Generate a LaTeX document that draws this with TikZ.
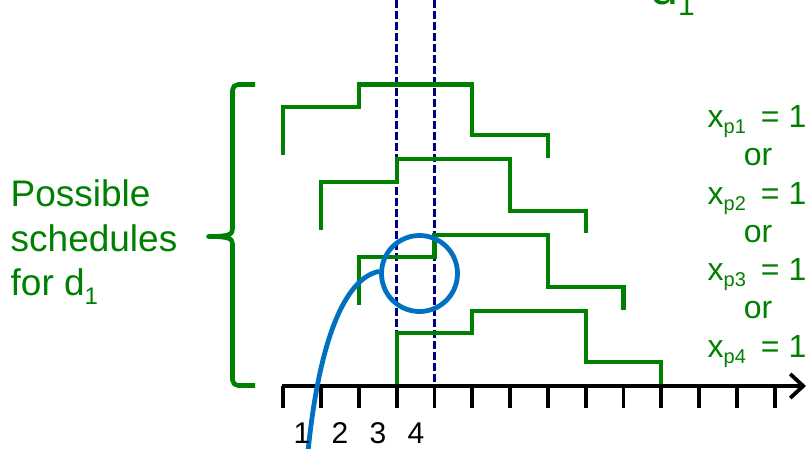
\documentclass[tikz,border=0pt]{standalone}
\usepackage{fontspec}
\setmainfont{Liberation Sans}
\usetikzlibrary{arrows.meta}
\definecolor{sched}{RGB}{0,128,0}
\definecolor{navyguide}{RGB}{0,0,128}
\definecolor{hlblue}{RGB}{0,112,192}
\newcommand{\mysub}[3]{\raisebox{-#2}{\fontsize{#1}{#1}\selectfont #3}}
\begin{document}
\begin{tikzpicture}[x=1pt,y=-1pt,
  schedline/.style={draw=sched, line width=4.2pt, line join=miter},
  braceline/.style={draw=sched, line width=4.6pt, line join=round},
  guideline/.style={draw=navyguide, line width=2.8pt, dash pattern=on 8pt off 3pt},
  axisline/.style={draw=black, line width=3.8pt},
  tickline/.style={draw=black, line width=3.8pt},
  hlline/.style={draw=hlblue, line width=4.8pt},
  lefttext/.style={text=sched, inner sep=0pt, anchor=base west, font=\fontsize{37pt}{44pt}\selectfont},
  righttext/.style={text=sched, inner sep=0pt, font=\fontsize{32pt}{38pt}\selectfont},
  numtext/.style={text=black, inner sep=0pt, anchor=base, font=\fontsize{30pt}{36pt}\selectfont}]
\useasboundingbox (0,0) rectangle (807,448);
\clip (0,0) rectangle (807,448);
% axis
\coordinate (axstart) at (281.5,386);
\coordinate (axend) at (806,386);
\foreach \i in {0,...,13} \draw[tickline] (283.3+37.8*\i,386) -- ++(0,22);
\draw[axisline, -{Straight Barb[length=13pt,width=24pt]}] (axstart) -- (axend);
% guides
\coordinate (ga) at (396.7,0);
\coordinate (gab) at (396.7,386);
\coordinate (gb) at (434.5,0);
\coordinate (gbb) at (434.5,386);
\draw[guideline] (ga) -- (gab);
\draw[guideline] (gb) -- (gbb);
% schedules
\draw[schedline] (283.3,155) |- (358.9,107) |- (472.3,84.5) |- (548.0,135.3) -- (548.0,158);
\draw[schedline] (321.1,230) |- (396.7,182) |- (510.1,159.3) |- (585.7,211) -- (585.7,233);
\draw[schedline] (358.9,305) |- (434.5,257.3) |- (548.0,235) |- (623.5,286.7) -- (623.5,310);
\draw[schedline] (396.7,384) |- (472.3,333.3) |- (585.7,311) |- (661.3,362.3) -- (661.3,384);
% brace
\draw[braceline] (255,84.5) -- (238,84.5) arc[start angle=270, end angle=180, radius=5.5]
  -- (232.5,229) .. controls (232.5,234.5) and (229,236.5) .. (208.5,236.5)
  .. controls (229,236.5) and (232.5,238.5) .. (232.5,244)
  -- (232.5,380) arc[start angle=180, end angle=90, radius=5.5] -- (255,385.5);
% highlight
\node[circle, draw=hlblue, line width=4.8pt, minimum size=76pt, inner sep=0pt] (focus) at (419.5,273.5) {};
\coordinate (tail) at (307,462);
\draw[hlline] (focus.177) .. controls (345,278) and (318,340) .. (tail);
% texts
\node[lefttext] (l1) at (10.5,206) {Possible};
\node[lefttext] (l2) at (10.5,251) {schedules};
\node[lefttext] (l3) at (10.5,295) {for d\mysub{24pt}{9pt}{1}};
\node[lefttext, font=\fontsize{50pt}{60pt}\selectfont] (dtop) at (650,4) {d\mysub{30pt}{11pt}{1}};
\node[righttext, anchor=base west] (x1) at (707.5,127.5) {x\mysub{20pt}{6pt}{p1}\hspace{15pt}= 1};
\node[righttext, anchor=base] (o1) at (758,165.5) {or};
\node[righttext, anchor=base west] (x2) at (707.5,204) {x\mysub{20pt}{6pt}{p2}\hspace{15pt}= 1};
\node[righttext, anchor=base] (o2) at (758,242) {or};
\node[righttext, anchor=base west] (x3) at (707.5,280.5) {x\mysub{20pt}{6pt}{p3}\hspace{15pt}= 1};
\node[righttext, anchor=base] (o3) at (758,318.5) {or};
\node[righttext, anchor=base west] (x4) at (707.5,357) {x\mysub{20pt}{6pt}{p4}\hspace{15pt}= 1};
\node[numtext] (n1) at (302,443) {1};
\node[numtext] (n2) at (340,443) {2};
\node[numtext] (n3) at (378,443) {3};
\node[numtext] (n4) at (416,443) {4};
\end{tikzpicture}
\end{document}
